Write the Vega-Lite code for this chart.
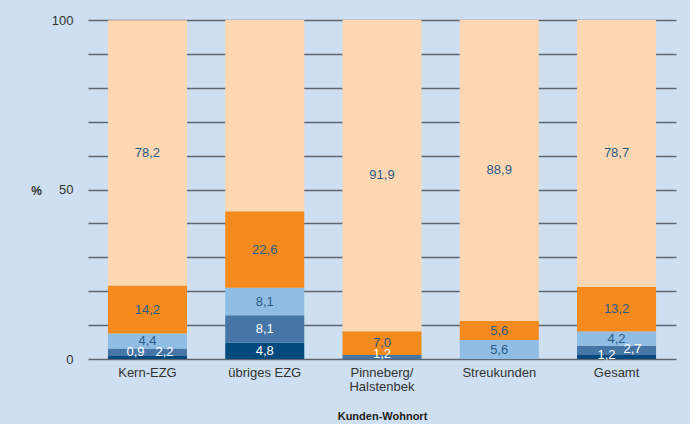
{
  "$schema": "https://vega.github.io/schema/vega-lite/v6.json",
  "width": 588,
  "height": 339,
  "autosize": {"type": "none"},
  "padding": {"left": 88, "top": 20, "right": 14, "bottom": 65},
  "background": "#cddff0",
  "config": {
    "view": {"stroke": null},
    "font": "Liberation Sans",
    "axis": {"labelFont": "Liberation Sans", "titleFont": "Liberation Sans"},
    "axisY": {
      "tickCount": 10,
      "labelExpr": "datum.value % 50 == 0 ? datum.label : ''",
      "labelOverlap": false,
      "labelFontSize": 13,
      "labelColor": "#333333",
      "labelPadding": 15,
      "ticks": false,
      "domain": false,
      "grid": true,
      "gridColor": "#5f6670",
      "gridWidth": 1.5,
      "titleAngle": 0,
      "titleX": -52,
      "titleY": 170,
      "titleAlign": "center",
      "titleBaseline": "middle",
      "titleFontSize": 12,
      "titleFontWeight": "bold",
      "titleColor": "#333333"
    }
  },
  "data": {
    "values": [
      {"Kategorie": "Kern-EZG", "s": 1, "Wert": 0.9},
      {"Kategorie": "Kern-EZG", "s": 2, "Wert": 2.2},
      {"Kategorie": "Kern-EZG", "s": 3, "Wert": 4.4},
      {"Kategorie": "Kern-EZG", "s": 4, "Wert": 14.2},
      {"Kategorie": "Kern-EZG", "s": 5, "Wert": 78.2},
      {"Kategorie": "übriges EZG", "s": 1, "Wert": 4.8},
      {"Kategorie": "übriges EZG", "s": 2, "Wert": 8.1},
      {"Kategorie": "übriges EZG", "s": 3, "Wert": 8.1},
      {"Kategorie": "übriges EZG", "s": 4, "Wert": 22.6},
      {"Kategorie": "übriges EZG", "s": 5, "Wert": 56.4},
      {"Kategorie": "Pinneberg/Halstenbek", "s": 1, "Wert": 0},
      {"Kategorie": "Pinneberg/Halstenbek", "s": 2, "Wert": 1.2},
      {"Kategorie": "Pinneberg/Halstenbek", "s": 3, "Wert": 0},
      {"Kategorie": "Pinneberg/Halstenbek", "s": 4, "Wert": 7.0},
      {"Kategorie": "Pinneberg/Halstenbek", "s": 5, "Wert": 91.9},
      {"Kategorie": "Streukunden", "s": 1, "Wert": 0},
      {"Kategorie": "Streukunden", "s": 2, "Wert": 0},
      {"Kategorie": "Streukunden", "s": 3, "Wert": 5.6},
      {"Kategorie": "Streukunden", "s": 4, "Wert": 5.6},
      {"Kategorie": "Streukunden", "s": 5, "Wert": 88.9},
      {"Kategorie": "Gesamt", "s": 1, "Wert": 1.2},
      {"Kategorie": "Gesamt", "s": 2, "Wert": 2.7},
      {"Kategorie": "Gesamt", "s": 3, "Wert": 4.2},
      {"Kategorie": "Gesamt", "s": 4, "Wert": 13.2},
      {"Kategorie": "Gesamt", "s": 5, "Wert": 78.7}
    ]
  },
  "transform": [
    {"stack": "Wert", "groupby": ["Kategorie"], "sort": [{"field": "s", "order": "ascending"}], "as": ["y0", "y1"]},
    {"calculate": "(datum.y0 + datum.y1) / 2", "as": "mid"},
    {"calculate": "replace(format(datum.Wert, '.1f'), '.', ',')", "as": "lab"}
  ],
  "encoding": {
    "x": {
      "field": "Kategorie",
      "type": "nominal",
      "sort": ["Kern-EZG", "übriges EZG", "Pinneberg/Halstenbek", "Streukunden", "Gesamt"],
      "scale": {"paddingInner": 0.326, "paddingOuter": 0.17},
      "axis": {
        "title": "Kunden-Wohnort",
        "titleFontSize": 11,
        "titleFontWeight": "bold",
        "titleColor": "#222222",
        "titleY": 57,
        "titleBaseline": "middle",
        "labelAngle": 0,
        "labelFontSize": 13,
        "labelColor": "#333333",
        "labelPadding": 7,
        "labelLineHeight": 14,
        "labelExpr": "datum.label == 'Pinneberg/Halstenbek' ? ['Pinneberg/', 'Halstenbek'] : datum.label",
        "ticks": false,
        "domain": false,
        "grid": false
      }
    }
  },
  "layer": [
    {
      "mark": {"type": "bar"},
      "encoding": {
        "y": {
          "field": "y0",
          "type": "quantitative",
          "scale": {"domain": [0, 100], "nice": false},
          "axis": {"title": "%", "tickCount": 10}
        },
        "y2": {"field": "y1"},
        "color": {
          "field": "s",
          "type": "ordinal",
          "scale": {"domain": [1, 2, 3, 4, 5], "range": ["#004a7d", "#4676a6", "#8fbde3", "#f58a1f", "#fdd6b2"]},
          "legend": null
        }
      }
    },
    {
      "transform": [
        {"filter": "datum.Wert > 0 && !(datum.Kategorie == 'übriges EZG' && datum.s == 5) && !((datum.Kategorie == 'Kern-EZG' || datum.Kategorie == 'Gesamt') && datum.s <= 2) && !(datum.Kategorie == 'Pinneberg/Halstenbek' && datum.s == 2)"}
      ],
      "mark": {"type": "text", "fontSize": 13, "baseline": "middle"},
      "encoding": {
        "y": {"field": "mid", "type": "quantitative", "axis": {"title": "%", "tickCount": 10}},
        "text": {"field": "lab"},
        "color": {"condition": {"test": "datum.s <= 2", "value": "#ffffff"}, "value": "#2b5c88"}
      }
    },
    {
      "transform": [{"filter": "datum.Kategorie == 'Pinneberg/Halstenbek' && datum.s == 2"}],
      "mark": {"type": "text", "fontSize": 13, "baseline": "middle", "dy": -3, "color": "#ffffff"},
      "encoding": {
        "y": {"field": "mid", "type": "quantitative", "axis": {"title": "%", "tickCount": 10}},
        "text": {"field": "lab"}
      }
    },
    {
      "transform": [{"filter": "datum.Kategorie == 'Kern-EZG' && datum.s == 1"}],
      "mark": {"type": "text", "fontSize": 13, "baseline": "middle", "dx": -12, "dy": -5, "color": "#ffffff"},
      "encoding": {
        "y": {"field": "mid", "type": "quantitative", "axis": {"title": "%", "tickCount": 10}},
        "text": {"field": "lab"}
      }
    },
    {
      "transform": [{"filter": "datum.Kategorie == 'Kern-EZG' && datum.s == 2"}],
      "mark": {"type": "text", "fontSize": 13, "baseline": "middle", "dx": 17, "dy": 0, "color": "#ffffff"},
      "encoding": {
        "y": {"field": "mid", "type": "quantitative", "axis": {"title": "%", "tickCount": 10}},
        "text": {"field": "lab"}
      }
    },
    {
      "transform": [{"filter": "datum.Kategorie == 'Gesamt' && datum.s == 1"}],
      "mark": {"type": "text", "fontSize": 13, "baseline": "middle", "dx": -10, "dy": -2, "color": "#ffffff"},
      "encoding": {
        "y": {"field": "mid", "type": "quantitative", "axis": {"title": "%", "tickCount": 10}},
        "text": {"field": "lab"}
      }
    },
    {
      "transform": [{"filter": "datum.Kategorie == 'Gesamt' && datum.s == 2"}],
      "mark": {"type": "text", "fontSize": 13, "baseline": "middle", "dx": 16, "dy": -1, "color": "#ffffff"},
      "encoding": {
        "y": {"field": "mid", "type": "quantitative", "axis": {"title": "%", "tickCount": 10}},
        "text": {"field": "lab"}
      }
    }
  ]
}
